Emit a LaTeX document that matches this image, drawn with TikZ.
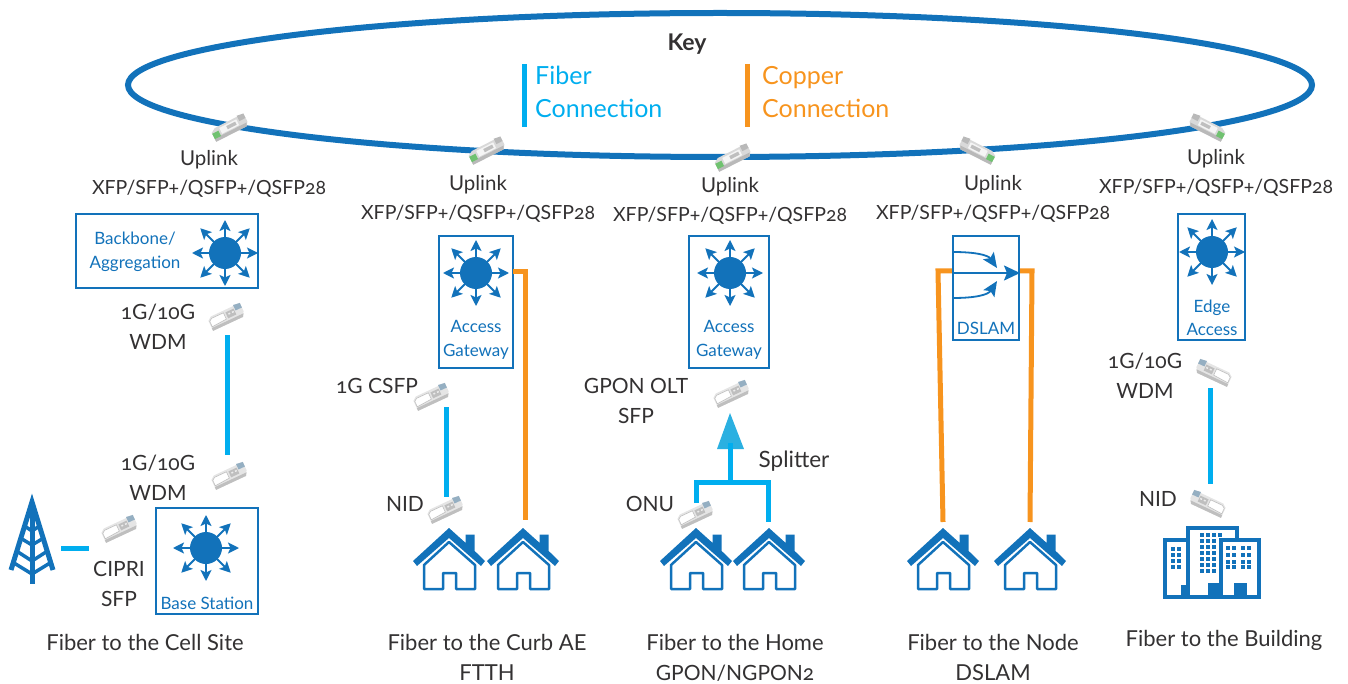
\documentclass[tikz,border=0pt]{standalone}
\usepackage{fontspec}
\setmainfont[Numbers=OldStyle]{Lato}
\usetikzlibrary{arrows.meta}
\definecolor{netblue}{HTML}{1272BA}
\definecolor{fiber}{HTML}{00AEEF}
\definecolor{copper}{HTML}{F7941E}
\definecolor{inktext}{HTML}{333132}
\newcommand{\uplinktxt}{{\fontsize{20.5}{29}\selectfont Uplink}\\XFP/SFP+/QSFP+/QSFP28}
\tikzset{
	lbl/.style={text=inktext, align=center, inner sep=0pt, font=\fontsize{21}{29.5}\selectfont},
	caplbl/.style={lbl, font=\fontsize{22}{30}\selectfont},
	uplbl/.style={lbl, font=\fontsize{19.5}{29}\selectfont},
	devlbl/.style={text=netblue, align=center, inner sep=0pt, font=\fontsize{17}{23.5}\selectfont},
	keylbl/.style={align=left, anchor=west, inner sep=0pt, font=\fontsize{25}{33.5}\selectfont},
	devbox/.style={draw=netblue, line width=2pt, fill=white, inner sep=0pt},
	fiberline/.style={fiber, line width=5pt},
	copperline/.style={copper, line width=5pt},
	hubarrow/.style={netblue, line width=1.8pt, -{Stealth[length=11pt,width=11pt,inset=2.5pt]}},
	hub/.pic={
		\fill[netblue] (0,0) circle (16);
		\foreach \ang in {0,90,180,270} \draw[hubarrow] (\ang:10) -- (\ang:33);
		\foreach \ang in {45,135,225,315} \draw[hubarrow] (\ang:10) -- (\ang:35);
	},
	xcvr/.pic={
		\fill[gray!20] (-18,-3) -- (-18,8) -- (15,8) -- (18,3) -- (18,-6) -- (-14,-6) -- cycle;
		\fill[gray!50] (-18,5) -- (-18,8) -- (15,8) -- (17,5) -- cycle;
		\fill[white, draw=gray!50, line width=.6pt] (-17,-2) -- (-14,-4) -- (-1,-4) -- (-1,3) -- (-17,4) -- cycle;
		\fill[gray!50] (1,-3.5) rectangle (10,3);
		\fill[gray!15] (3,-1.5) rectangle (5,0) (7,-1.5) rectangle (9,0);
		\fill[netblue!45!gray!60] (11,-7) -- (18,-6) -- (18,-1) -- (11,-1) -- cycle;
	},
	uplinkxcvr/.pic={
		\fill[gray!30] (-19,-3) -- (-19,6) -- (15,7) -- (18,3) -- (18,-6) -- (-14,-6) -- cycle;
		\fill[gray!55] (-19,3.5) -- (-19,7) -- (15,7) -- (17,3.5) -- cycle;
		\fill[gray!8] (-10,-4) rectangle (9,2.5);
		\fill[gray!50] (-3,-2.5) rectangle (7,1);
		\fill[green!40!gray!80] (-19,-2) rectangle (-12,4);
		\fill[gray!55] (11,-7) -- (18,-6) -- (18,-1) -- (11,-1) -- cycle;
	},
	house/.pic={
		\fill[netblue] (0,0) -- (16.7,15) -- (16.7,6.7) -- (25.7,6.7) -- (25.7,23) -- (36,33) -- (32,38) -- (0,10) -- (-32,38) -- (-36,33) -- cycle;
		\draw[netblue, line width=2.5pt, line join=round] (-25,37) -- (0,14) -- (26,37) -- (26,61) -- (7,61) -- (7,45) -- (-6,45) -- (-6,61) -- (-25,61) -- cycle;
	},
}
\begin{document}
\begin{tikzpicture}[x=1pt, y=-1pt]
	\useasboundingbox (0,0) rectangle (1348,684);

	% Ring
	\draw[netblue, line width=6pt] (720,85) ellipse (592 and 72);

	% Key
	\node[text=inktext, inner sep=0pt, font=\fontsize{23}{28}\selectfont\bfseries] (keyhead) at (687,44) {Key};
	\coordinate (fibertop) at (524,64);
	\coordinate (fiberbot) at (524,127);
	\coordinate (coppertop) at (747,64);
	\coordinate (copperbot) at (747,127);
	\draw[fiberline] (fibertop) -- (fiberbot);
	\draw[copperline] (coppertop) -- (copperbot);
	\node[keylbl, text=fiber] (fiberkey) at (535,92) {Fiber\\Connection};
	\node[keylbl, text=copper] (copperkey) at (762,92) {Copper\\Connection};

	% Fiber to the Cell Site
	\node[devbox, minimum width=182pt, minimum height=74pt] (backbone) at (167,251) {};
	\pic at (225,253) {hub};
	\node[devlbl] (backbonetxt) at (135,252) {Backbone/\\Aggregation};
	\node[devbox, minimum width=102pt, minimum height=106pt] (basestn) at (207,561) {};
	\pic at (206,548) {hub};
	\node[devlbl] (basetxt) at (207,603) {Base Station};
	\pic[rotate=27] at (230,127) {uplinkxcvr};
	\pic[rotate=25] at (226,316) {xcvr};
	\pic[rotate=25] at (229,475) {xcvr};
	\pic[rotate=25] at (119,528) {xcvr};
	\node[uplbl] (uplinkA) at (209,174) {\uplinktxt};
	\node[lbl] (wdmA) at (158,327) {1G/10G\\WDM};
	\node[lbl] (wdmB) at (158,478) {1G/10G\\WDM};
	\node[lbl] (cipri) at (119,584) {CIPRI\\SFP};
	\coordinate (wdmAend) at (227,335);
	\coordinate (wdmBend) at (227,455);
	\draw[fiberline] (wdmAend) -- (wdmBend);
	\coordinate (towerend) at (61,548);
	\coordinate (cipriend) at (89,548);
	\draw[fiberline] (towerend) -- (cipriend);
	% Tower
	\draw[netblue, line width=5pt, line join=miter] (11,570) -- (32,502) -- (53,570);
	\draw[netblue, line width=5pt] (32,505) -- (32,584);
	\draw[netblue, line width=3.5pt] (26,527) -- (32,531) -- (38,527);
	\draw[netblue, line width=3.5pt] (22,539) -- (32,545) -- (42,539);
	\draw[netblue, line width=3.5pt] (18,552) -- (32,561) -- (46,552);
	\draw[netblue, line width=3.5pt] (14,563) -- (32,574) -- (50,563);
	\node[caplbl] (cellcap) at (145,642) {Fiber to the Cell Site};

	% Fiber to the Curb
	\node[devbox, minimum width=74pt, minimum height=132pt] (gatewayA) at (476,302) {};
	\pic at (476,273) {hub};
	\node[devlbl] (gatewayAtxt) at (476,340) {Access\\Gateway};
	\pic[rotate=27] at (487,150) {uplinkxcvr};
	\pic[rotate=25] at (431,396) {xcvr};
	\pic[rotate=25] at (445,509) {xcvr};
	\node[uplbl] (uplinkB) at (478,199) {\uplinktxt};
	\node[lbl] (csfp) at (377,386) {1G CSFP};
	\node[lbl] (nidA) at (405,504) {NID};
	\coordinate (csfpend) at (446,407);
	\coordinate (nidAend) at (446,497);
	\draw[fiberline] (csfpend) -- (nidAend);
	\coordinate (gatewayAout) at (513,272);
	\coordinate (curbhouse) at (525,520);
	\draw[copperline] (gatewayAout) -| (curbhouse);
	\pic at (449,528) {house};
	\pic at (523,528) {house};
	\node[caplbl] (curbcap) at (487,657.5) {Fiber to the Curb AE\\FTTH};

	% Fiber to the Home
	\node[devbox, minimum width=80pt, minimum height=132pt] (gatewayB) at (729,302) {};
	\pic at (730,273) {hub};
	\node[devlbl] (gatewayBtxt) at (729,340) {Access\\Gateway};
	\pic[rotate=27] at (733,157) {uplinkxcvr};
	\pic[rotate=25] at (731,393) {xcvr};
	\pic[rotate=25] at (695,514) {xcvr};
	\node[uplbl] (uplinkC) at (730,201) {\uplinktxt};
	\node[lbl] (gpon) at (636,401) {GPON OLT\\SFP};
	\node[lbl, font=\fontsize{22.5}{30}\selectfont] (splittertxt) at (794,461) {Splitter};
	\node[lbl] (onu) at (650,504) {ONU};
	\coordinate (onuend) at (696,503);
	\coordinate (splitL) at (696,482);
	\coordinate (splitR) at (768,482);
	\coordinate (homehouse) at (768,522);
	\coordinate (splitmid) at (730,482);
	\coordinate (splittip) at (730,413);
	\draw[fiberline] (onuend) -- (splitL) -- (splitR) -- (homehouse);
	\fill[fiber!85!gray!90] (splittip) -- (744,449) -- (717,449) -- cycle;
	\draw[fiberline] (splitmid) -- (730,443);
	\pic at (696,528) {house};
	\pic at (769,528) {house};
	\node[caplbl] (homecap) at (735,657.5) {Fiber to the Home\\{\fontsize{21}{30}\selectfont GPON/NGPON2}};

	% Fiber to the Node
	\coordinate (nodeL) at (943,522);
	\coordinate (nodeLtop) at (938,271);
	\coordinate (nodeR) at (1030,522);
	\coordinate (nodeRtop) at (1032,271);
	\coordinate (dslamL) at (953,271);
	\coordinate (dslamR) at (1019,271);
	\draw[copperline] (dslamL) -- (nodeLtop) -- (nodeL);
	\draw[copperline] (dslamR) -- (nodeRtop) -- (nodeR);
	\node[devbox, minimum width=66pt, minimum height=104pt] (dslam) at (986,288) {};
	\draw[netblue, line width=1.8pt, -{Stealth[length=16pt,width=15pt,inset=3pt]}] (dslam.west |- 0,273) -- (dslam.east |- 0,273);
	\draw[netblue, line width=1.8pt, -{Stealth[length=15pt,width=13pt,inset=3pt]}] (953,252) .. controls (975,252) and (988,255) .. (997,268);
	\draw[netblue, line width=1.8pt, -{Stealth[length=15pt,width=13pt,inset=3pt]}] (953,298) .. controls (975,298) and (988,295) .. (997,281);
	\node[devlbl] (dslamtxt) at (986,328) {DSLAM};
	\pic[xscale=-1, rotate=27] at (977,150) {uplinkxcvr};
	\node[uplbl] (uplinkD) at (993,199) {\uplinktxt};
	\pic at (943,528) {house};
	\pic at (1030,528) {house};
	\node[caplbl] (nodecap) at (993,657.5) {Fiber to the Node\\DSLAM};

	% Fiber to the Building
	\node[devbox, minimum width=67pt, minimum height=126pt] (edge) at (1211,277) {};
	\pic at (1212,252) {hub};
	\node[devlbl] (edgetxt) at (1212,318) {Edge\\Access};
	\pic[xscale=-1, rotate=27] at (1207,127) {uplinkxcvr};
	\pic[xscale=-1, rotate=25] at (1214,372) {xcvr};
	\pic[xscale=-1, rotate=25] at (1208,503) {xcvr};
	\node[uplbl] (uplinkE) at (1216,173) {\uplinktxt};
	\node[lbl] (wdmC) at (1145,376) {1G/10G\\WDM};
	\node[lbl] (nidB) at (1158,499) {NID};
	\coordinate (wdmCend) at (1210,388);
	\coordinate (nidBend) at (1210,484);
	\draw[fiberline] (wdmCend) -- (nidBend);
	% Building
	\draw[netblue, line width=3.5pt] (1165,540) rectangle (1188,597);
	\draw[netblue, line width=3.5pt, fill=white] (1188,528) rectangle (1237,597);
	\draw[netblue, line width=3.5pt, fill=white] (1221,540) rectangle (1259,597);
	\foreach \cx in {1171,1177} \foreach \cy in {547,553,559,565} \fill[netblue] (\cx,\cy) rectangle ++(4,4);
	\foreach \cx in {1200,1206,1212} \foreach \cy in {533,539,545,551,557,563,569} \fill[netblue] (\cx,\cy) rectangle ++(4,4);
	\fill[netblue] (1218,533) rectangle ++(4,4);
	\foreach \cx in {1226,1232,1241,1247} \foreach \cy in {546,553,560,565} \fill[netblue] (\cx,\cy) rectangle ++(4,4);
	\fill[netblue] (1181,585) rectangle (1188,597);
	\fill[netblue] (1208,583) rectangle (1222,597);
	\fill[netblue] (1234,583) rectangle (1247,597);
	\node[caplbl] (bldgcap) at (1224,640) {Fiber to the Building};
\end{tikzpicture}
\end{document}
